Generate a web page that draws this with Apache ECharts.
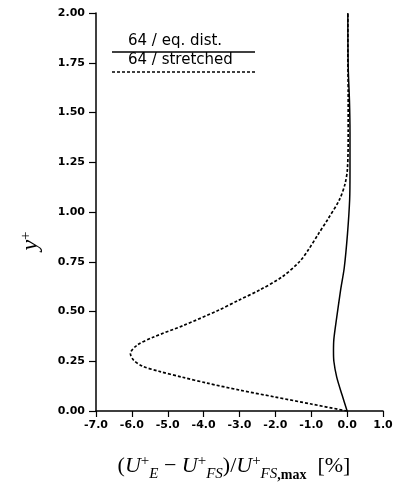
<!DOCTYPE html>
<html>
<head>
<meta charset="UTF-8">
<title>y+ profile</title>
<script src="https://cdn.jsdelivr.net/npm/echarts@6/dist/echarts.min.js"></script>
<style>
  html, body { margin: 0; padding: 0; background: #fff; }
  #chart { width: 405px; height: 487px; }
</style>
</head>
<body>
<div id="chart"></div>
<script>
// axis ticks
var xTicks = [-7, -6, -5, -4, -3, -2, -1, 0, 1];
var yTicks = [0, 0.25, 0.5, 0.75, 1, 1.25, 1.5, 1.75, 2];

// 64 / eq. dist. (solid)
var eqDistY = [0.00, 0.08, 0.17, 0.25, 0.30, 0.36, 0.47, 0.61, 0.72, 0.89, 1.06, 1.20, 1.40, 1.56, 1.73, 2.00];
var eqDistX = [0.00, -0.14, -0.29, -0.37, -0.38, -0.37, -0.29, -0.18, -0.08, 0.01, 0.07, 0.08, 0.08, 0.065, 0.03, 0.02];

// 64 / stretched (dashed)
var stretchedY = [0.00, 0.035, 0.07, 0.105, 0.14, 0.17, 0.20, 0.225, 0.255, 0.288, 0.33, 0.372, 0.43, 0.506, 0.556, 0.607, 0.673, 0.75, 0.81, 0.89, 0.96, 1.06, 1.14, 1.22, 1.40, 1.60, 1.80, 2.00];
var stretchedX = [0.00, -1.00, -2.00, -3.00, -3.90, -4.60, -5.25, -5.70, -5.95, -6.04, -5.86, -5.39, -4.56, -3.59, -3.03, -2.45, -1.82, -1.33, -1.08, -0.80, -0.55, -0.22, -0.06, 0.01, 0.03, 0.03, 0.02, 0.02];

function pairs(xs, ys) {
  var out = [];
  for (var i = 0; i < xs.length; i++) out.push([xs[i], ys[i]]);
  return out;
}

var chart = echarts.init(document.getElementById('chart'));
var tickFont = { color: '#000', fontFamily: 'DejaVu Sans', fontWeight: 'bold', fontSize: 11 };
var serif = 'Liberation Serif';

chart.setOption({
  animation: false,
  grid: { left: 96, right: 22, top: 13, bottom: 76 },
  xAxis: {
    type: 'value',
    min: xTicks[0], max: xTicks[xTicks.length - 1], interval: 1,
    axisLine: { onZero: false, lineStyle: { color: '#000', width: 1.5 } },
    axisTick: { length: 6, lineStyle: { color: '#000', width: 1.2 } },
    splitLine: { show: false },
    axisLabel: Object.assign({ margin: 9, formatter: function (v) { return v.toFixed(1); } }, tickFont)
  },
  yAxis: {
    type: 'value',
    min: yTicks[0], max: yTicks[yTicks.length - 1], interval: 0.25,
    axisLine: { show: true, onZero: false, lineStyle: { color: '#000', width: 1.5 } },
    axisTick: { show: true, length: 7, lineStyle: { color: '#000', width: 1.2 } },
    splitLine: { show: false },
    axisLabel: Object.assign({ margin: 11, formatter: function (v) { return v.toFixed(2); } }, tickFont)
  },
  series: [
    {
      name: '64 / eq. dist.', type: 'line', data: pairs(eqDistX, eqDistY),
      showSymbol: false, smooth: 0.3,
      lineStyle: { color: '#000', width: 1.5 }
    },
    {
      name: '64 / stretched', type: 'line', data: pairs(stretchedX, stretchedY),
      showSymbol: false, smooth: 0.3,
      lineStyle: { color: '#000', width: 1.7, type: [3, 2] }
    }
  ],
  graphic: [
    { type: 'text', left: 128, top: 34, style: { text: '64 / eq. dist.', font: '15px "DejaVu Sans"', fill: '#000' } },
    { type: 'line', shape: { x1: 112, y1: 52, x2: 255, y2: 52 }, style: { stroke: '#000', lineWidth: 1.5 } },
    { type: 'text', left: 128, top: 53, style: { text: '64 / stretched', font: '15px "DejaVu Sans"', fill: '#000' } },
    { type: 'line', shape: { x1: 112, y1: 72, x2: 255, y2: 72 }, style: { stroke: '#000', lineWidth: 1.5, lineDash: [3, 2] } },
    {
      type: 'text', x: 31, y: 241, rotation: Math.PI / 2,
      style: {
        text: '{y|y}{s|+}', align: 'center', verticalAlign: 'middle',
        rich: {
          y: { fontFamily: serif, fontStyle: 'italic', fontSize: 24, lineHeight: 30, fill: '#000' },
          s: { fontFamily: serif, fontSize: 15, lineHeight: 15, verticalAlign: 'middle', padding: [0, 0, 10, 0], fill: '#000' }
        }
      }
    },
    {
      type: 'text', x: 234, y: 466,
      style: {
        text: '{n|(}{i|U}{p|+}{b|E}{n| − }{i|U}{p|+}{b|FS}{n|)/}{i|U}{p|+}{b|FS}{c|,max}{n|  [%]}',
        align: 'center', verticalAlign: 'middle',
        rich: {
          n: { fontFamily: serif, fontSize: 22, lineHeight: 32, fill: '#000' },
          i: { fontFamily: serif, fontStyle: 'italic', fontSize: 22, lineHeight: 32, fill: '#000' },
          p: { fontFamily: serif, fontSize: 15, lineHeight: 15, verticalAlign: 'middle', padding: [0, 0, 9, 0], fill: '#000' },
          b: { fontFamily: serif, fontStyle: 'italic', fontSize: 15, lineHeight: 14, verticalAlign: 'bottom', fill: '#000' },
          c: { fontFamily: serif, fontWeight: 'bold', fontSize: 14, lineHeight: 14, verticalAlign: 'bottom', fill: '#000' }
        }
      }
    }
  ]
});
</script>
</body>
</html>
